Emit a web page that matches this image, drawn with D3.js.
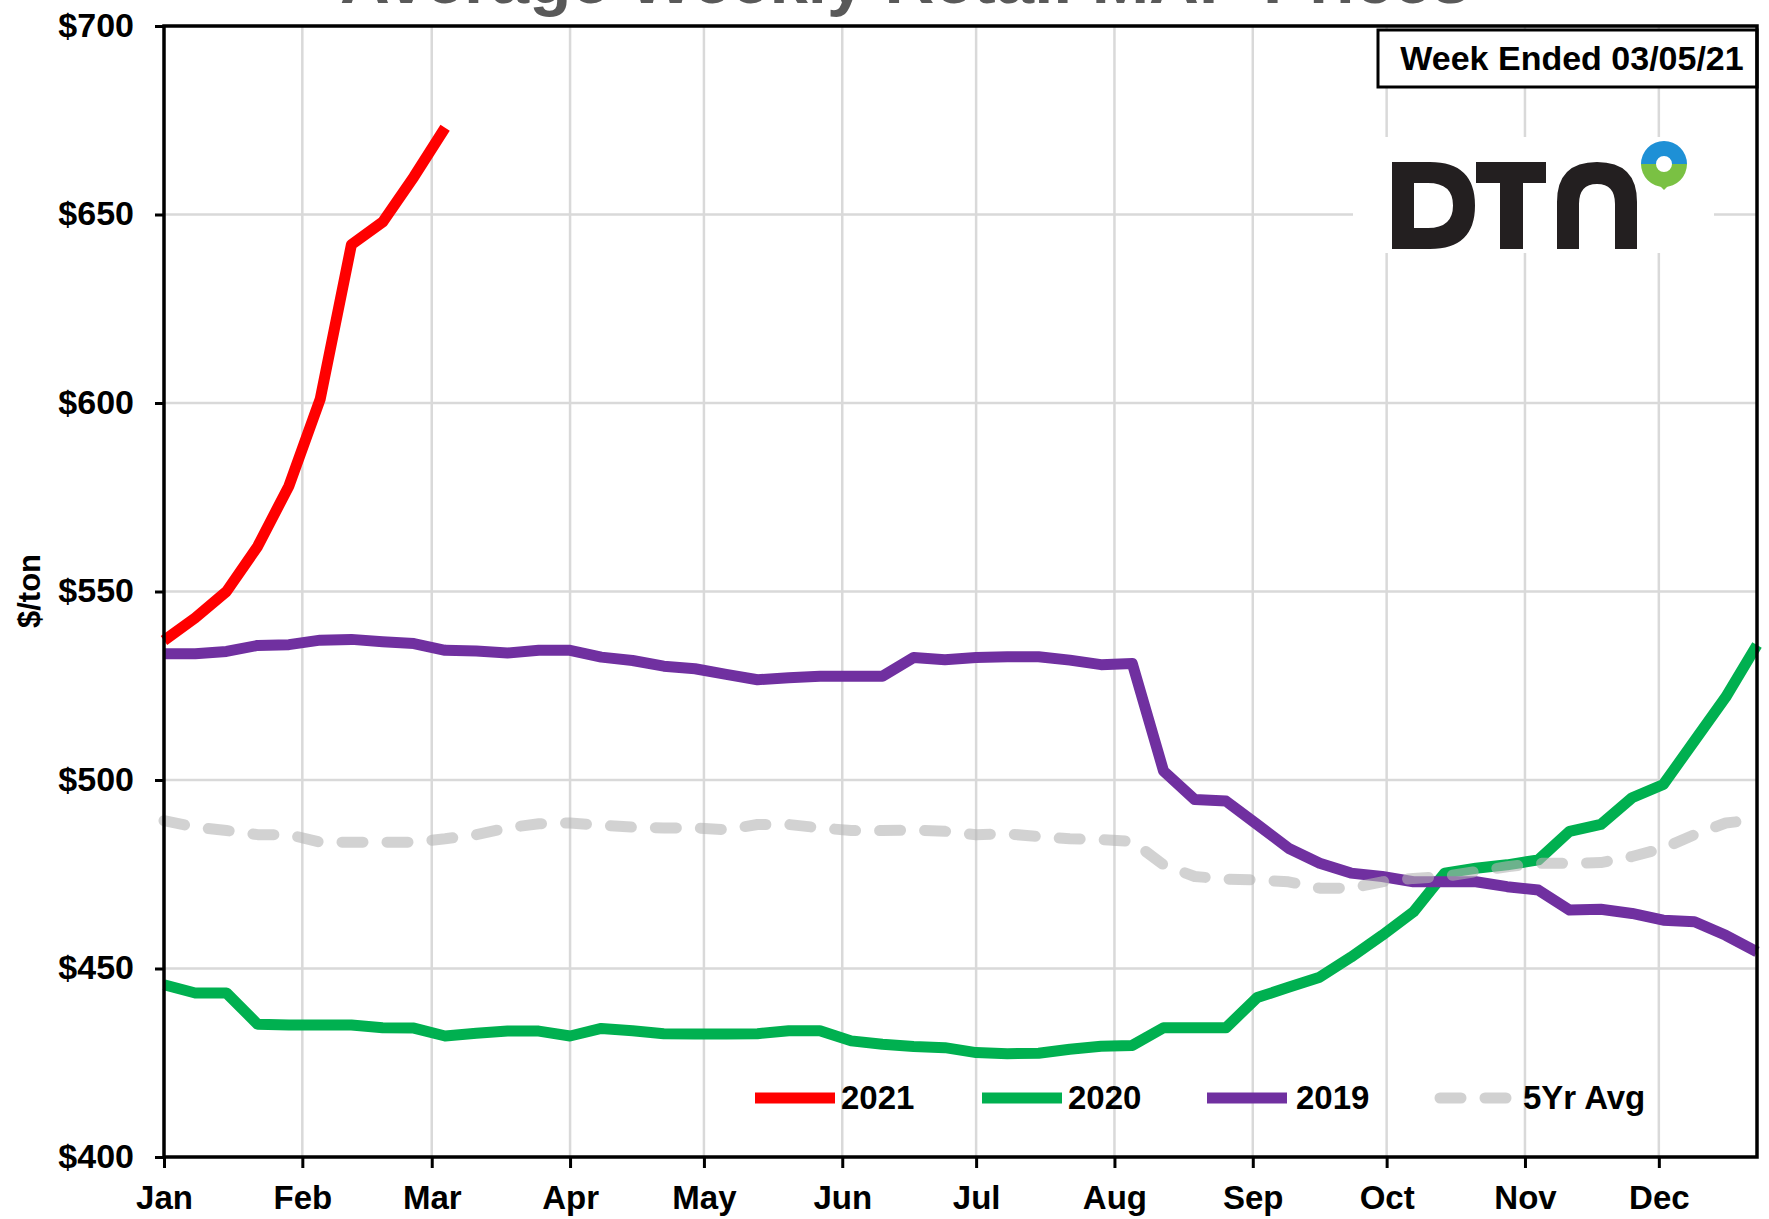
<!DOCTYPE html>
<html>
<head>
<meta charset="utf-8">
<script src="https://cdn.jsdelivr.net/npm/d3@7"></script>
<style>
  html, body { margin: 0; padding: 0; background: #fff; }
  svg { display: block; }
  text { font-family: "Liberation Sans", Arial, sans-serif; }
</style>
</head>
<body>
<svg id="chart" width="1769" height="1219"></svg>
<script>
// ---- data ----
// weekly points laid on a (leap-year) calendar axis, as in the source chart
const weeks = [
  "2020-01-01","2020-01-08","2020-01-15","2020-01-22","2020-01-29",
  "2020-02-05","2020-02-12","2020-02-19","2020-02-26","2020-03-04",
  "2020-03-11","2020-03-18","2020-03-25","2020-04-01","2020-04-08",
  "2020-04-15","2020-04-22","2020-04-29","2020-05-06","2020-05-13",
  "2020-05-20","2020-05-27","2020-06-03","2020-06-10","2020-06-17",
  "2020-06-24","2020-07-01","2020-07-08","2020-07-15","2020-07-22",
  "2020-07-29","2020-08-05","2020-08-12","2020-08-19","2020-08-26",
  "2020-09-02","2020-09-09","2020-09-16","2020-09-23","2020-09-30",
  "2020-10-07","2020-10-14","2020-10-21","2020-10-28","2020-11-04",
  "2020-11-11","2020-11-18","2020-11-25","2020-12-02","2020-12-09",
  "2020-12-16","2020-12-23"
];
const s2021 = [537, 543, 550, 562, 578, 601, 642, 648, 660, 673];
const s2020 = [445.7, 443.5, 443.5, 435.2, 435, 435, 435, 434.3, 434.2, 432.1,
  432.8, 433.4, 433.4, 432.1, 434.1, 433.5, 432.7,
  432.6, 432.6, 432.7, 433.5, 433.5, 430.8, 429.9, 429.3, 429, 427.7,
  427.4, 427.5, 428.6, 429.4, 429.6, 434.3, 434.3,
  434.3, 442.3, 445, 447.7, 453, 458.8, 465, 475.3, 476.6, 477.5,
  478.8, 486.4, 488.2, 495.3, 498.8, 510.4, 522, 535.8];
const s2019 = [533.5, 533.5, 534.1, 535.7, 535.9, 537.1, 537.3, 536.7, 536.2, 534.4,
  534.2, 533.7, 534.4, 534.4, 532.6, 531.7, 530.2,
  529.5, 528, 526.6, 527.1, 527.5, 527.5, 527.5, 532.5, 531.9, 532.5,
  532.7, 532.7, 531.8, 530.6, 530.9, 502.4, 494.8,
  494.4, 488.2, 481.9, 477.9, 475.3, 474.4, 473, 473, 473, 471.7,
  470.8, 465.5, 465.7, 464.6, 462.8, 462.4, 458.8, 454.4];
const s5yr = [489.2, 487.5, 486.6, 485.5, 485.5, 483.5, 483.5, 483.5, 483.5, 484.4,
  485.5, 487.3, 488.4, 488.6, 488, 487.5, 487.3,
  487.3, 486.8, 488.2, 488.2, 487.3, 486.6, 486.6, 486.7, 486.4, 485.5,
  485.7, 485, 484.4, 484.2, 483.7, 477.5, 474.4,
  473.7, 473.5, 473, 471.3, 471.3, 473, 473.9, 474.4, 475.7, 477,
  477.9, 477.9, 478.1, 479.7, 481.9, 485.5, 488.6, 489.5];
const seriesNames = ["2021", "2020", "2019", "5Yr Avg"];
const yTicks = [400, 450, 500, 550, 600, 650, 700];
const titleText = "Average Weekly Retail MAP Prices";
const weekEnded = "Week Ended 03/05/21";
const yLabel = "$/ton";

// ---- layout ----
const svg = d3.select("#chart");
const L = 164, R = 1757, T = 26, B = 1157;
const parse = d3.timeParse("%Y-%m-%d");
const dates = weeks.map(parse);

const x = d3.scaleTime().domain([dates[0], dates[dates.length - 1]]).range([L, R]);
const y = d3.scaleLinear().domain([400, 700]).range([B, T]);

const series = [
  { name: seriesNames[0], values: s2021, color: "#ff0000", dash: null },
  { name: seriesNames[1], values: s2020, color: "#00b050", dash: null },
  { name: seriesNames[2], values: s2019, color: "#7030a0", dash: null },
  { name: seriesNames[3], values: s5yr, color: "#b4b4b4", dash: "21,24", opacity: 0.6 }
];

svg.append("rect").attr("width", 1769).attr("height", 1219).attr("fill", "#fff");

// title (clipped at top like the reference)
svg.append("text")
  .attr("x", 905).attr("y", 3)
  .attr("text-anchor", "middle")
  .attr("font-size", 69).attr("font-weight", "bold")
  .attr("fill", "#595959")
  .text(titleText);

// gridlines
const monthTicks = x.ticks(d3.timeMonth.every(1));
const grid = svg.append("g");
grid.selectAll("line.v").data(monthTicks.slice(1)).join("line")
  .attr("x1", d => x(d)).attr("x2", d => x(d))
  .attr("y1", T).attr("y2", B)
  .attr("stroke", "#d9d9d9").attr("stroke-width", 2.5);
grid.selectAll("line.h").data(yTicks.slice(1, -1)).join("line")
  .attr("x1", L).attr("x2", R)
  .attr("y1", d => y(d)).attr("y2", d => y(d))
  .attr("stroke", "#d9d9d9").attr("stroke-width", 2.5);

// logo area
svg.append("rect").attr("x", 1353).attr("y", 137).attr("width", 361).attr("height", 116).attr("fill", "#fff");
const logo = svg.append("g").attr("fill", "#231f20");
logo.append("path").attr("fill-rule", "evenodd")
  .attr("d", "M1392 162 H1430 Q1475 162 1475 205.5 Q1475 249 1430 249 H1392 Z " +
             "M1414 183 V228 H1428 Q1453 228 1453 205.5 Q1453 183 1428 183 Z");
logo.append("rect").attr("x", 1476).attr("y", 162).attr("width", 70).attr("height", 21);
logo.append("rect").attr("x", 1500).attr("y", 162).attr("width", 23).attr("height", 87);
logo.append("path")
  .attr("d", "M1557 249 V202 Q1557 162 1597 162 Q1637 162 1637 202 V249 H1615 V204 Q1615 184 1597 184 Q1579 184 1579 204 V249 Z");
// ring mark
const arc = d3.arc().innerRadius(8).outerRadius(23);
const ring = svg.append("g").attr("transform", "translate(1664,164)");
ring.append("path").attr("fill", "#1e90d6").attr("d", arc({ startAngle: -Math.PI / 2, endAngle: Math.PI / 2 }));
ring.append("path").attr("fill", "#7ac143").attr("d", arc({ startAngle: Math.PI / 2, endAngle: 3 * Math.PI / 2 }));
ring.append("path").attr("fill", "#7ac143").attr("d", "M-8 18 L0 26 L8 18 Z");

// week ended box
svg.append("rect").attr("x", 1378).attr("y", 30).attr("width", 379).attr("height", 57)
  .attr("fill", "#fff").attr("stroke", "#000").attr("stroke-width", 3);
svg.append("text").attr("x", 1572).attr("y", 70).attr("text-anchor", "middle")
  .attr("font-size", 34).attr("font-weight", "bold").attr("fill", "#000")
  .text(weekEnded);

// series lines
const line = d3.line().x((d, i) => x(dates[i])).y(d => y(d));
svg.append("g").selectAll("path").data(series).join("path")
  .attr("d", d => line(d.values))
  .attr("fill", "none")
  .attr("stroke", d => d.color)
  .attr("stroke-width", 11)
  .attr("stroke-linejoin", "round")
  .attr("stroke-linecap", d => d.dash ? "round" : "butt")
  .attr("stroke-dasharray", d => d.dash)
  .attr("opacity", d => d.opacity || 1);

// plot border
svg.append("rect").attr("x", L).attr("y", T).attr("width", R - L).attr("height", B - T)
  .attr("fill", "none").attr("stroke", "#000").attr("stroke-width", 3.5);

// axes
const yAxis = svg.append("g").attr("transform", `translate(${L},0)`)
  .call(d3.axisLeft(y).tickValues(yTicks).tickFormat(d => "$" + d).tickSize(9).tickPadding(21));
yAxis.select(".domain").remove();
yAxis.selectAll("line").attr("stroke", "#000").attr("stroke-width", 3);
yAxis.selectAll("text").attr("font-size", 34).attr("font-weight", "bold").attr("fill", "#000")
  .attr("font-family", "'Liberation Sans', Arial, sans-serif").attr("dy", "0.3em");

const xAxis = svg.append("g").attr("transform", `translate(0,${B})`)
  .call(d3.axisBottom(x).ticks(d3.timeMonth.every(1)).tickFormat(d3.timeFormat("%b")).tickSize(11));
xAxis.select(".domain").remove();
xAxis.selectAll("line").attr("stroke", "#000").attr("stroke-width", 3);
xAxis.selectAll("text").attr("font-size", 33).attr("font-weight", "bold").attr("fill", "#000")
  .attr("font-family", "'Liberation Sans', Arial, sans-serif")
  .attr("y", 52).attr("dy", null);

// y label
svg.append("text").attr("transform", "translate(40,591) rotate(-90)")
  .attr("text-anchor", "middle").attr("font-size", 31).attr("font-weight", "bold").attr("fill", "#000")
  .text(yLabel);

// legend
const legendX = [755, 982, 1207, 1435];
const leg = svg.append("g").selectAll("g").data(series).join("g")
  .attr("transform", (d, i) => `translate(${legendX[i]},1098)`);
leg.append("line").attr("x1", d => d.dash ? 5 : 0).attr("x2", d => d.dash ? 79 : 80)
  .attr("stroke", d => d.color).attr("stroke-width", 11)
  .attr("stroke-linecap", d => d.dash ? "round" : "butt")
  .attr("stroke-dasharray", d => d.dash)
  .attr("opacity", d => d.opacity || 1);
leg.append("text").attr("x", (d, i) => i === 2 ? 89 : (i === 3 ? 88 : 86)).attr("y", 11)
  .attr("font-size", 33).attr("font-weight", "bold").attr("fill", "#000")
  .text(d => d.name);
</script>
</body>
</html>
